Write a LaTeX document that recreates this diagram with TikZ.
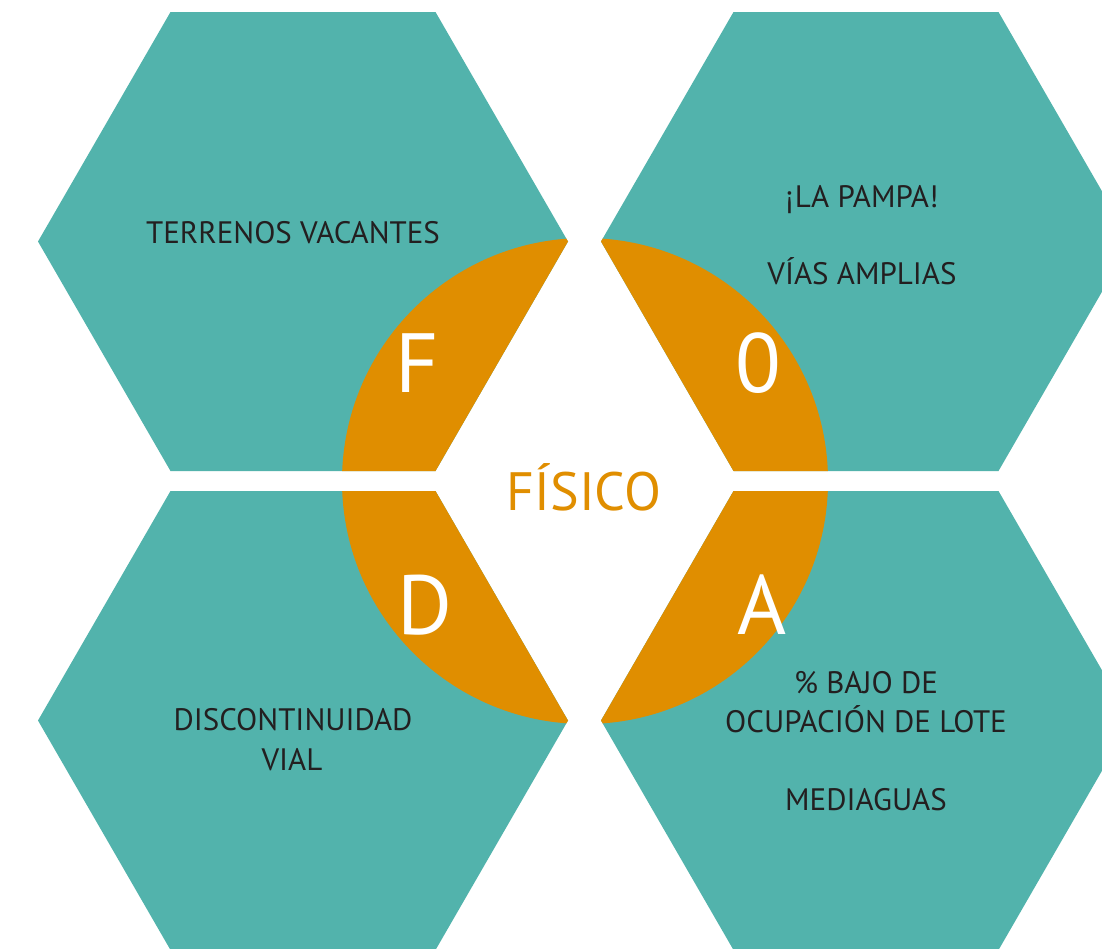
\documentclass[tikz,border=0pt]{standalone}
\usepackage{fontspec}
\setmainfont{PT Sans}
\definecolor{teal}{HTML}{52B3AC}
\definecolor{foda}{HTML}{E08E00}
\definecolor{ink}{HTML}{231F20}
\tikzset{
  hexa/.style={fill=teal},
  lbl/.style={inner sep=0pt, anchor=base, text=ink, font=\fontsize{31}{37}\selectfont},
  big/.style={inner sep=0pt, anchor=base, text=white, font=\fontsize{84}{90}\selectfont},
  title/.style={inner sep=0pt, anchor=base, text=foda, font=\fontsize{54}{60}\selectfont}
}
\newcommand{\hexat}[2]{(#1+265,#2) -- (#1+132.5,#2-229.5) -- (#1-132.5,#2-229.5) -- (#1-265,#2) -- (#1-132.5,#2+229.5) -- (#1+132.5,#2+229.5) -- cycle}
\begin{document}
\begin{tikzpicture}[x=1pt,y=-1pt]
\useasboundingbox (0,0) rectangle (1102,948);
\clip (0,0) rectangle (1102,948);
\fill[white] (0,0) rectangle (1102,948);
\fill[hexa] \hexat{303}{241.5};
\fill[hexa] \hexat{866}{241.5};
\fill[hexa] \hexat{303}{720.5};
\fill[hexa] \hexat{866}{720.5};
\begin{scope}
\clip \hexat{303}{241.5} \hexat{866}{241.5} \hexat{303}{720.5} \hexat{866}{720.5};
\fill[foda] (585,481) circle[radius=243];
\end{scope}
\node[lbl] (s1) at (293,243) {TERRENOS VACANTES};
\node[lbl] (o1) at (862,207) {¡LA PAMPA!};
\node[lbl] (o2) at (862,284) {VÍAS AMPLIAS};
\node[lbl] (w1) at (293,730) {DISCONTINUIDAD};
\node[lbl] (w2) at (292,770) {VIAL};
\node[lbl] (t1) at (866,693) {\% BAJO DE};
\node[lbl] (t2) at (866,732) {OCUPACIÓN DE LOTE};
\node[lbl] (t3) at (866,810) {MEDIAGUAS};
\node[big] (f) at (417,392) {F};
\node[big] (o) at (758,392) {0};
\node[big] (d) at (425,634) {D};
\node[big] (a) at (762,634) {A};
\node[title] (fis) at (584,510) {FÍSICO};
\end{tikzpicture}
\end{document}
